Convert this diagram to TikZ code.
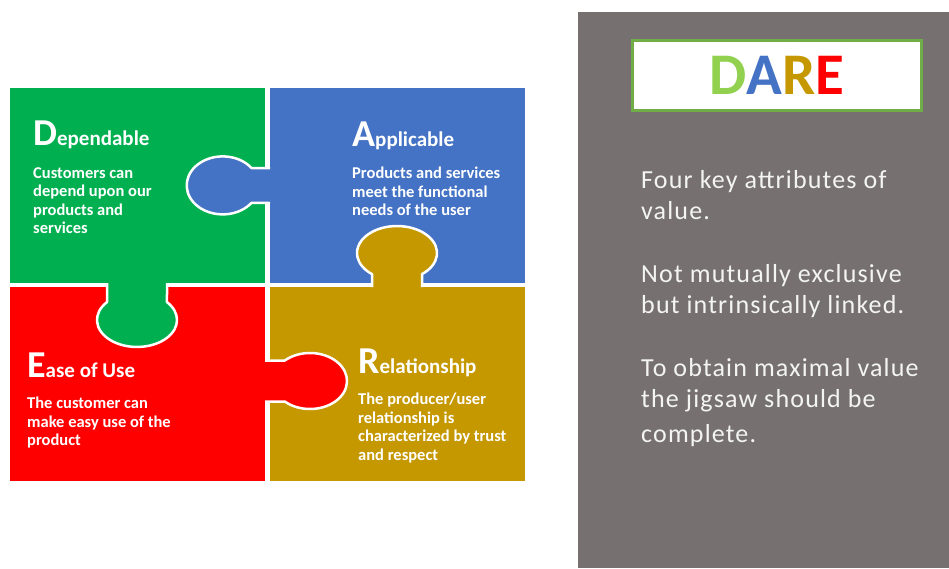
\documentclass[tikz,border=0pt]{standalone}
\usepackage{fontspec}
\setmainfont{Carlito}
\newfontfamily\notefont[LetterSpace=4.5]{Carlito}
\usetikzlibrary{positioning}
\definecolor{pzgreen}{RGB}{0, 176, 80}
\definecolor{pzblue}{RGB}{68, 114, 196}
\definecolor{pzred}{RGB}{255, 0, 0}
\definecolor{pzgold}{RGB}{197, 152, 0}
\definecolor{panelgray}{RGB}{118, 113, 112}
\definecolor{boxgreen}{RGB}{112, 173, 71}
\definecolor{lightgreen}{RGB}{146, 208, 80}
\definecolor{notewhite}{RGB}{244, 244, 244}

\begin{document}
\begin{tikzpicture}[x=1pt, y=1pt,
        knob/.style={draw=white, line width=2.5pt, line join=round},
        head/.style={text=white, inner sep=0pt, anchor=base west},
        body/.style={text=white, inner sep=0pt, anchor=north west, align=left,
            font=\fontsize{16.5}{18.5}\selectfont\bfseries},
        note/.style={text=notewhite, inner sep=0pt, anchor=north west, align=left,
            font=\notefont\fontsize{26}{31}\selectfont}
    ]
    \useasboundingbox (0,0) rectangle (949,-568);

    % the four pieces
    \fill[pzgreen] (10,-88)  rectangle (265,-283);
    \fill[pzblue]  (270,-88) rectangle (525,-283);
    \fill[pzred]   (10,-287) rectangle (265,-481);
    \fill[pzgold]  (270,-287) rectangle (525,-481);

    % knobs, each one pushed into its neighbour
    \filldraw[knob, fill=pzblue] (270,-168) -- (251.5,-168)
        arc[start angle=36.87, end angle=323.13, x radius=36, y radius=29] -- (270,-203);
    \filldraw[knob, fill=pzgold] (422,-287) -- (422,-274.1)
        arc[start angle=-51.32, end angle=231.32, x radius=40, y radius=27] -- (372,-287);
    \filldraw[knob, fill=pzgreen] (107,-283) -- (107,-302.1)
        arc[start angle=138.59, end angle=401.41, x radius=40, y radius=27] -- (167,-283);
    \filldraw[knob, fill=pzred] (265,-360.5) -- (284.8,-360.5)
        arc[start angle=132.94, end angle=-132.94, x radius=37, y radius=28] -- (265,-401.5);

    % piece titles
    \node[head] (dhead) at (33,-145)
        {\bfseries\fontsize{38}{40}\selectfont D\fontsize{21}{24}\selectfont ependable};
    \node[head] (ahead) at (352,-146)
        {\bfseries\fontsize{38}{40}\selectfont A\fontsize{21}{24}\selectfont pplicable};
    \node[head] (ehead) at (27,-377)
        {\bfseries\fontsize{38}{40}\selectfont E\fontsize{21}{24}\selectfont ase of Use};
    \node[head] (rhead) at (358,-373)
        {\bfseries\fontsize{38}{40}\selectfont R\fontsize{21}{24}\selectfont elationship};

    % piece texts
    \node[body] (dtext) at (33,-167)
        {Customers can\\depend upon our\\products and\\services};
    \node[body] (atext) at (352,-167)
        {Products and services\\meet the functional\\needs of the user};
    \node[body] (etext) at (27,-397)
        {The customer can\\make easy use of the\\product};
    \node[body] (rtext) at (358,-393)
        {The producer/user\\relationship is\\characterized by trust\\and respect};

    % side panel
    \fill[panelgray] (578,-12) rectangle (949,-568);
    \node[draw=boxgreen, line width=3pt, fill=white, inner sep=0pt,
          minimum width=289pt, minimum height=70pt] (dare) at (777,-75.5)
        {\bfseries\fontsize{59}{60}\selectfont
         \textcolor{lightgreen}{D}\textcolor{pzblue}{A}\textcolor{pzgold}{R}\textcolor{pzred}{E}};

    \node[note] (note1) at (641,-170) {Four key attributes of\\value.};
    \node[note] (note2) at (641,-264) {Not mutually exclusive\\but intrinsically linked.};
    \node[note] (note3) at (641,-358) {To obtain maximal value\\the jigsaw should be\\[4pt]complete.};
\end{tikzpicture}
\end{document}
